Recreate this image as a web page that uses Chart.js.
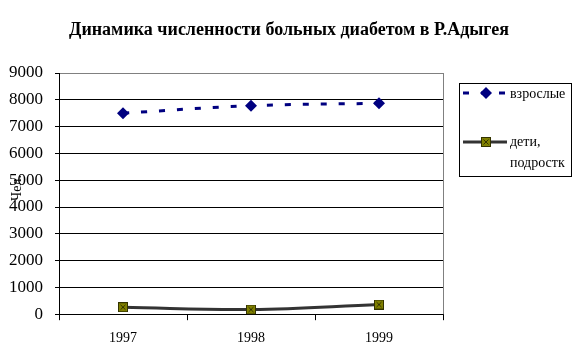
<!DOCTYPE html>
<html>
<head>
<meta charset="utf-8">
<script src="https://cdn.jsdelivr.net/npm/chart.js@4"></script>
<style>
  html, body { margin: 0; padding: 0; background: #fff; }
  #wrap { width: 577px; height: 364px; }
</style>
</head>
<body>
<div id="wrap"><canvas id="diabetes-chart_"></canvas></div>
<script>
const years = ['1997', '1998', '1999'];
const adults = [7500, 7780, 7870];
const kids = [260, 175, 360];
const titleText = 'Динамика численности больных диабетом в Р.Адыгея';
const axisTitle = 'Чел.';
const serif = '"Liberation Serif", "Times New Roman", serif';

// olive square with a cross, like the Excel marker
function makeKidsMarker() {
    const c = document.createElement('canvas');
    c.width = 10; c.height = 10;
    const g = c.getContext('2d');
    g.fillStyle = '#808000';
    g.fillRect(0, 0, 10, 10);
    g.strokeStyle = '#333300';
    g.lineWidth = 1;
    g.strokeRect(0.5, 0.5, 9, 9);
    g.beginPath();
    g.moveTo(2.5, 2.5); g.lineTo(7.5, 7.5);
    g.moveTo(7.5, 2.5); g.lineTo(2.5, 7.5);
    g.stroke();
    return c;
}
const kidsMarker = makeKidsMarker();

const extras = {
    id: 'extras',
    afterDraw(chart) {
        const ctx = chart.ctx;
        const area = chart.chartArea;
        ctx.save();

        // title centred on the whole picture, not just the plot
        ctx.fillStyle = '#000';
        ctx.font = 'bold 18px ' + serif;
        ctx.textAlign = 'center';
        ctx.textBaseline = 'middle';
        ctx.fillText(titleText, 289, 30);

        // right border of plot area
        ctx.strokeStyle = '#808080';
        ctx.lineWidth = 1;
        ctx.beginPath();
        ctx.moveTo(Math.round(area.right) + 0.5, area.top);
        ctx.lineTo(Math.round(area.right) + 0.5, area.bottom);
        ctx.stroke();

        // y axis title, sitting over the tick labels as in the original
        ctx.save();
        ctx.translate(17, 188);
        ctx.rotate(-Math.PI / 2);
        ctx.fillStyle = '#000';
        ctx.font = '14px ' + serif;
        ctx.textAlign = 'center';
        ctx.textBaseline = 'middle';
        ctx.fillText(axisTitle, 0, 0);
        ctx.restore();

        // legend box
        ctx.strokeStyle = '#000';
        ctx.lineWidth = 1;
        ctx.strokeRect(459.5, 83.5, 112, 93);

        // adults entry
        ctx.strokeStyle = '#000080';
        ctx.lineWidth = 3;
        ctx.setLineDash([6, 12]);
        ctx.beginPath();
        ctx.moveTo(463, 93);
        ctx.lineTo(507, 93);
        ctx.stroke();
        ctx.setLineDash([]);
        ctx.fillStyle = '#000080';
        ctx.beginPath();
        ctx.moveTo(486, 87); ctx.lineTo(492, 93); ctx.lineTo(486, 99); ctx.lineTo(480, 93);
        ctx.closePath();
        ctx.fill();

        // kids entry
        ctx.strokeStyle = '#333333';
        ctx.lineWidth = 3;
        ctx.beginPath();
        ctx.moveTo(463, 142);
        ctx.lineTo(507, 142);
        ctx.stroke();
        ctx.drawImage(kidsMarker, 481, 137);

        ctx.fillStyle = '#000';
        ctx.font = '14px ' + serif;
        ctx.textAlign = 'left';
        ctx.textBaseline = 'middle';
        ctx.fillText('взрослые', 510, 94);
        ctx.fillText('дети,', 510, 142);
        ctx.fillText('подростк', 510, 163);
        ctx.restore();
    }
};

const ctx1 = document.getElementById('diabetes-chart_');
new Chart(ctx1, {
    type: 'line',
    data: {
        labels: years,
        datasets: [
            {
                label: 'взрослые',
                data: adults,
                borderColor: '#000080',
                backgroundColor: '#000080',
                borderWidth: 3,
                borderDash: [6, 12],
                tension: 0.4,
                pointStyle: 'rectRot',
                pointRadius: 6,
                pointBorderWidth: 0,
                pointBackgroundColor: '#000080'
            },
            {
                label: 'дети, подростк',
                data: kids,
                borderColor: '#333333',
                borderWidth: 3,
                tension: 0.4,
                pointStyle: kidsMarker
            }
        ]
    },
    options: {
        responsive: true,
        maintainAspectRatio: false,
        animation: false,
        layout: {
            padding: { top: 73, left: 0, right: 134, bottom: 7 }
        },
        scales: {
            x: {
                offset: true,
                grid: {
                    offset: true,
                    drawOnChartArea: false,
                    drawTicks: true,
                    tickLength: 6,
                    color: '#000'
                },
                border: { color: '#000', width: 1 },
                ticks: {
                    color: '#000',
                    padding: 10,
                    font: { family: serif, size: 14 }
                }
            },
            y: {
                min: 0,
                max: 9000,
                afterFit(scale) { scale.width = 59; },
                grid: {
                    color: (c) => (c.tick && c.tick.value === 9000 ? '#808080' : '#000'),
                    tickLength: 4,
                    tickColor: '#000'
                },
                border: { color: '#000', width: 1 },
                ticks: {
                    stepSize: 1000,
                    color: '#000',
                    padding: 12,
                    font: { family: serif, size: 17 },
                    callback: (v) => String(v)
                }
            }
        },
        plugins: {
            legend: { display: false },
            tooltip: { enabled: false },
            title: { display: false }
        }
    },
    plugins: [extras]
});
</script>
</body>
</html>
